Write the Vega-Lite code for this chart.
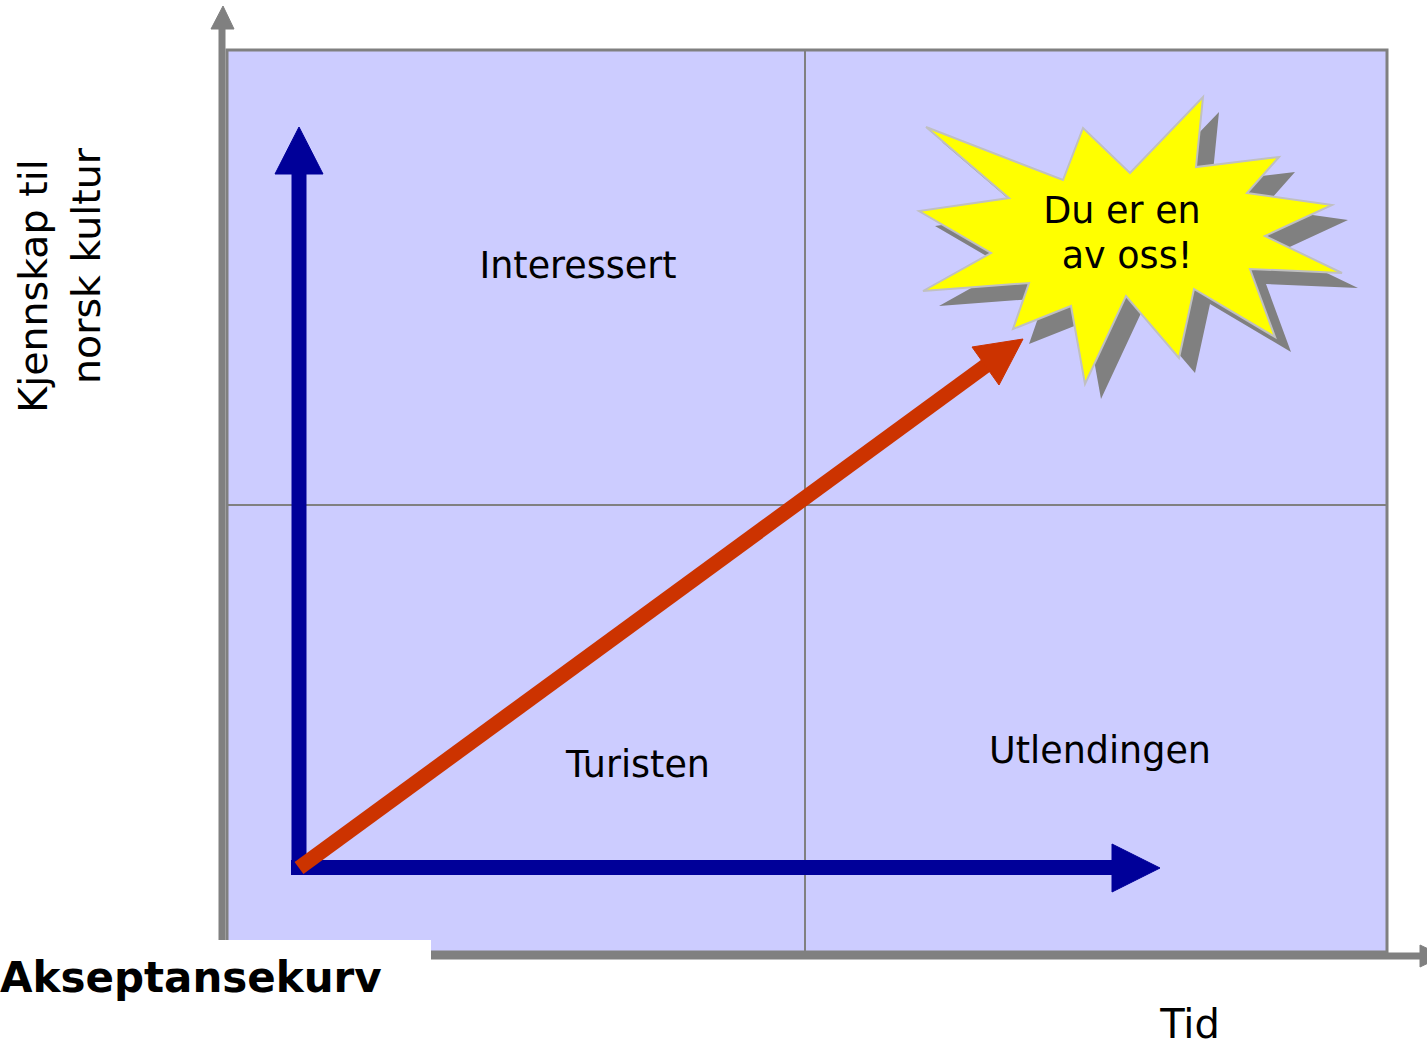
{
  "$schema": "https://vega.github.io/schema/vega-lite/v6.json",
  "width": 1427,
  "height": 1048,
  "padding": 0,
  "autosize": {"type": "none"},
  "background": "#FFFFFF",
  "config": {"view": {"stroke": null}, "font": "DejaVu Sans"},
  "datasets": {
    "boxes": [
      {"kind": "plot", "x": 227, "y": 50, "x2": 1387, "y2": 952},
      {"kind": "label", "x": 0, "y": 940, "x2": 431, "y2": 1048}
    ],
    "rules": [
      {"kind": "grid", "x": 805, "y": 50, "x2": 805, "y2": 952},
      {"kind": "grid", "x": 227, "y": 505, "x2": 1387, "y2": 505},
      {"kind": "axis", "x": 222, "y": 956, "x2": 222, "y2": 28},
      {"kind": "axis", "x": 219, "y": 956, "x2": 1422, "y2": 956},
      {"kind": "blue", "x": 299, "y": 875, "x2": 299, "y2": 170},
      {"kind": "blue", "x": 291, "y": 867.5, "x2": 1114, "y2": 867.5},
      {"kind": "red", "x": 299, "y": 868, "x2": 988, "y2": 364}
    ],
    "polys": [
      {"shape": "axisUp", "i": 1, "x": 223, "y": 6},
      {"shape": "axisUp", "i": 2, "x": 234, "y": 29},
      {"shape": "axisUp", "i": 3, "x": 211, "y": 29},
      {"shape": "axisRight", "i": 1, "x": 1420, "y": 945},
      {"shape": "axisRight", "i": 2, "x": 1443, "y": 956},
      {"shape": "axisRight", "i": 3, "x": 1420, "y": 967},
      {"shape": "blueUp", "i": 1, "x": 299, "y": 127},
      {"shape": "blueUp", "i": 2, "x": 323, "y": 174},
      {"shape": "blueUp", "i": 3, "x": 275, "y": 174},
      {"shape": "blueRight", "i": 1, "x": 1112, "y": 844},
      {"shape": "blueRight", "i": 2, "x": 1160, "y": 868},
      {"shape": "blueRight", "i": 3, "x": 1112, "y": 892},
      {"shape": "redHead", "i": 1, "x": 1023, "y": 339},
      {"shape": "redHead", "i": 2, "x": 999, "y": 385},
      {"shape": "redHead", "i": 3, "x": 972, "y": 347},
      {"shape": "shadow", "i": 1, "x": 942, "y": 142},
      {"shape": "shadow", "i": 2, "x": 1079, "y": 195},
      {"shape": "shadow", "i": 3, "x": 1099, "y": 143},
      {"shape": "shadow", "i": 4, "x": 1146, "y": 188},
      {"shape": "shadow", "i": 5, "x": 1219, "y": 112},
      {"shape": "shadow", "i": 6, "x": 1212, "y": 182},
      {"shape": "shadow", "i": 7, "x": 1295, "y": 172},
      {"shape": "shadow", "i": 8, "x": 1263, "y": 208},
      {"shape": "shadow", "i": 9, "x": 1348, "y": 220},
      {"shape": "shadow", "i": 10, "x": 1281, "y": 251},
      {"shape": "shadow", "i": 11, "x": 1358, "y": 288},
      {"shape": "shadow", "i": 12, "x": 1266, "y": 284},
      {"shape": "shadow", "i": 13, "x": 1291, "y": 352},
      {"shape": "shadow", "i": 14, "x": 1210, "y": 304},
      {"shape": "shadow", "i": 15, "x": 1195, "y": 373},
      {"shape": "shadow", "i": 16, "x": 1142, "y": 311},
      {"shape": "shadow", "i": 17, "x": 1101, "y": 399},
      {"shape": "shadow", "i": 18, "x": 1087, "y": 321},
      {"shape": "shadow", "i": 19, "x": 1029, "y": 344},
      {"shape": "shadow", "i": 20, "x": 1045, "y": 298},
      {"shape": "shadow", "i": 21, "x": 939, "y": 306},
      {"shape": "shadow", "i": 22, "x": 1007, "y": 268},
      {"shape": "shadow", "i": 23, "x": 935, "y": 226},
      {"shape": "shadow", "i": 24, "x": 1025, "y": 213},
      {"shape": "star", "i": 1, "x": 926, "y": 127},
      {"shape": "star", "i": 2, "x": 1063, "y": 180},
      {"shape": "star", "i": 3, "x": 1083, "y": 128},
      {"shape": "star", "i": 4, "x": 1130, "y": 173},
      {"shape": "star", "i": 5, "x": 1203, "y": 97},
      {"shape": "star", "i": 6, "x": 1196, "y": 167},
      {"shape": "star", "i": 7, "x": 1279, "y": 157},
      {"shape": "star", "i": 8, "x": 1247, "y": 193},
      {"shape": "star", "i": 9, "x": 1332, "y": 205},
      {"shape": "star", "i": 10, "x": 1265, "y": 236},
      {"shape": "star", "i": 11, "x": 1342, "y": 273},
      {"shape": "star", "i": 12, "x": 1250, "y": 269},
      {"shape": "star", "i": 13, "x": 1275, "y": 337},
      {"shape": "star", "i": 14, "x": 1194, "y": 289},
      {"shape": "star", "i": 15, "x": 1179, "y": 358},
      {"shape": "star", "i": 16, "x": 1126, "y": 296},
      {"shape": "star", "i": 17, "x": 1085, "y": 384},
      {"shape": "star", "i": 18, "x": 1071, "y": 306},
      {"shape": "star", "i": 19, "x": 1013, "y": 329},
      {"shape": "star", "i": 20, "x": 1029, "y": 283},
      {"shape": "star", "i": 21, "x": 923, "y": 291},
      {"shape": "star", "i": 22, "x": 991, "y": 253},
      {"shape": "star", "i": 23, "x": 919, "y": 211},
      {"shape": "star", "i": 24, "x": 1009, "y": 198}
    ],
    "labels": [
      {"kind": "inner", "x": 578, "y": 278, "text": "Interessert"},
      {"kind": "inner", "x": 638, "y": 777, "text": "Turisten"},
      {"kind": "inner", "x": 1100, "y": 763, "text": "Utlendingen"},
      {"kind": "inner", "x": 1122, "y": 223, "text": "Du er en"},
      {"kind": "inner", "x": 1127, "y": 268, "text": "av oss!"},
      {"kind": "ytitle", "x": 47, "y": 286, "text": "Kjennskap til"},
      {"kind": "ytitle", "x": 100, "y": 266, "text": "norsk kultur"},
      {"kind": "xtitle", "x": 1190, "y": 1038, "text": "Tid"},
      {"kind": "heading", "x": 0, "y": 992, "text": "Akseptansekurv"}
    ]
  },
  "encoding": {
    "x": {"field": "x", "type": "quantitative", "axis": null, "scale": {"domain": [0, 1427], "nice": false, "zero": false}},
    "y": {"field": "y", "type": "quantitative", "axis": null, "scale": {"domain": [0, 1048], "reverse": true, "nice": false, "zero": false}}
  },
  "layer": [
    {
      "data": {"name": "boxes"},
      "transform": [{"filter": "datum.kind === 'plot'"}],
      "mark": {"type": "rect", "fill": "#CCCCFF", "stroke": "#808080", "strokeWidth": 3},
      "encoding": {"x2": {"field": "x2"}, "y2": {"field": "y2"}}
    },
    {
      "data": {"name": "rules"},
      "transform": [{"filter": "datum.kind === 'grid'"}],
      "mark": {"type": "rule", "stroke": "#808080", "strokeWidth": 2},
      "encoding": {"x2": {"field": "x2"}, "y2": {"field": "y2"}}
    },
    {
      "data": {"name": "rules"},
      "transform": [{"filter": "datum.kind === 'axis'"}],
      "mark": {"type": "rule", "stroke": "#808080", "strokeWidth": 7},
      "encoding": {"x2": {"field": "x2"}, "y2": {"field": "y2"}}
    },
    {
      "data": {"name": "polys"},
      "transform": [{"filter": "datum.shape === 'axisUp' || datum.shape === 'axisRight'"}],
      "mark": {"type": "line", "interpolate": "linear-closed", "fill": "#808080", "stroke": "#808080", "strokeWidth": 1},
      "encoding": {"order": {"field": "i", "type": "quantitative"}, "detail": {"field": "shape"}}
    },
    {
      "data": {"name": "boxes"},
      "transform": [{"filter": "datum.kind === 'label'"}],
      "mark": {"type": "rect", "fill": "#FFFFFF"},
      "encoding": {"x2": {"field": "x2"}, "y2": {"field": "y2"}}
    },
    {
      "data": {"name": "rules"},
      "transform": [{"filter": "datum.kind === 'blue'"}],
      "mark": {"type": "rule", "stroke": "#000099", "strokeWidth": 15},
      "encoding": {"x2": {"field": "x2"}, "y2": {"field": "y2"}}
    },
    {
      "data": {"name": "polys"},
      "transform": [{"filter": "datum.shape === 'blueUp' || datum.shape === 'blueRight'"}],
      "mark": {"type": "line", "interpolate": "linear-closed", "fill": "#000099", "stroke": "#000099", "strokeWidth": 1},
      "encoding": {"order": {"field": "i", "type": "quantitative"}, "detail": {"field": "shape"}}
    },
    {
      "data": {"name": "rules"},
      "transform": [{"filter": "datum.kind === 'red'"}],
      "mark": {"type": "rule", "stroke": "#CC3300", "strokeWidth": 15},
      "encoding": {"x2": {"field": "x2"}, "y2": {"field": "y2"}}
    },
    {
      "data": {"name": "polys"},
      "transform": [{"filter": "datum.shape === 'redHead'"}],
      "mark": {"type": "line", "interpolate": "linear-closed", "fill": "#CC3300", "stroke": "#CC3300", "strokeWidth": 1},
      "encoding": {"order": {"field": "i", "type": "quantitative"}}
    },
    {
      "data": {"name": "polys"},
      "transform": [{"filter": "datum.shape === 'shadow'"}],
      "mark": {"type": "line", "interpolate": "linear-closed", "fill": "#808080", "strokeWidth": 0},
      "encoding": {"order": {"field": "i", "type": "quantitative"}}
    },
    {
      "data": {"name": "polys"},
      "transform": [{"filter": "datum.shape === 'star'"}],
      "mark": {"type": "line", "interpolate": "linear-closed", "fill": "#FFFF00", "stroke": "#C0C0C0", "strokeWidth": 2},
      "encoding": {"order": {"field": "i", "type": "quantitative"}}
    },
    {
      "data": {"name": "labels"},
      "transform": [{"filter": "datum.kind === 'inner'"}],
      "mark": {"type": "text", "font": "DejaVu Sans", "fontSize": 36.5, "align": "center", "baseline": "alphabetic", "color": "#000000"},
      "encoding": {"text": {"field": "text"}}
    },
    {
      "data": {"name": "labels"},
      "transform": [{"filter": "datum.kind === 'ytitle'"}],
      "mark": {"type": "text", "font": "DejaVu Sans", "fontSize": 39.5, "angle": 270, "align": "center", "baseline": "alphabetic", "color": "#000000"},
      "encoding": {"text": {"field": "text"}}
    },
    {
      "data": {"name": "labels"},
      "transform": [{"filter": "datum.kind === 'xtitle'"}],
      "mark": {"type": "text", "font": "DejaVu Sans", "fontSize": 40, "align": "center", "baseline": "alphabetic", "color": "#000000"},
      "encoding": {"text": {"field": "text"}}
    },
    {
      "data": {"name": "labels"},
      "transform": [{"filter": "datum.kind === 'heading'"}],
      "mark": {"type": "text", "font": "DejaVu Sans", "fontSize": 42, "fontWeight": "bold", "align": "left", "baseline": "alphabetic", "color": "#000000"},
      "encoding": {"text": {"field": "text"}}
    }
  ]
}
